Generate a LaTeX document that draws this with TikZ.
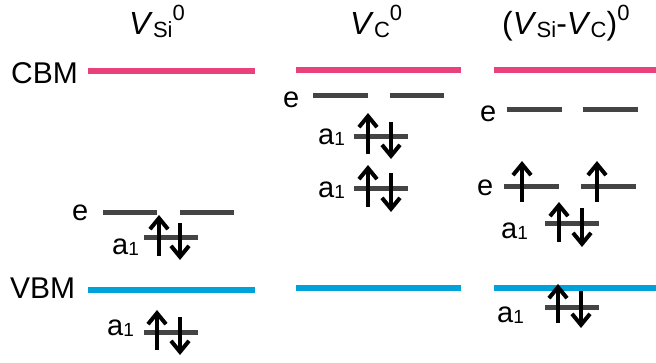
\documentclass[tikz,border=0pt]{standalone}
\usepackage{fontspec}
\usepackage{graphicx}
\setmainfont{Liberation Sans}
\usetikzlibrary{arrows.meta}
\definecolor{cbmcol}{HTML}{E8417B}
\definecolor{vbmcol}{HTML}{00A3D9}
\definecolor{lvlcol}{HTML}{444444}
\newcommand\lowtxt[1]{\raisebox{-3pt}{\fontsize{22}{22}\selectfont #1}}
\newcommand\hightxt[1]{\raisebox{14pt}{\fontsize{22}{22}\selectfont #1}}
\newcommand\aone{a\raisebox{-1pt}{\fontsize{19}{19}\selectfont 1}}
\tikzset{
  ttl/.style={inner sep=0pt, anchor=base west, font=\fontsize{32}{36}\selectfont},
  lbl/.style={inner sep=0pt, anchor=base west, font=\fontsize{30}{36}\selectfont},
  small/.style={inner sep=0pt, anchor=base west, font=\fontsize{29}{36}\selectfont},
  cbm/.style={draw=cbmcol, line width=6pt},
  vbm/.style={draw=vbmcol, line width=6pt},
  lvl/.style={draw=lvlcol, line width=5pt},
  spin/.style={draw=black, line width=4pt, -{Straight Barb[length=11pt,width=18pt,line width=4pt]}},
}
\begin{document}
\begin{tikzpicture}[x=1pt,y=-1pt]
\useasboundingbox (0,0) rectangle (656,362);
% titles
\node[ttl] (t1) at (129,34) {\textit{V}\lowtxt{Si}\hightxt{0}};
\node[ttl] (t2) at (350,34) {\textit{V}\lowtxt{C}\hightxt{0}};
\node[ttl] (t3) at (502,34) {(\textit{V}\lowtxt{Si}-\textit{V}\lowtxt{C})\hightxt{0}};
% band labels
\node[lbl] (cbm) at (11,83) {CBM};
\node[lbl] (vbm) at (10,298) {VBM};
% band edges
\draw[cbm] (88,71) -- (255,71);
\draw[cbm] (296,70) -- (461,70);
\draw[cbm] (494,70) -- (656,70);
\draw[vbm] (88,290) -- (255,290);
\draw[vbm] (296,288) -- (461,288);
\draw[vbm] (494,288) -- (656,288);
% column 1 levels
\node[small] (e1) at (72,220) {e};
\draw[lvl] (103,212) -- (157,212);
\draw[lvl] (180,212) -- (234,212);
\node[small] (a1u) at (112,254) {\aone};
\draw[lvl] (144,237) -- (198,237);
\node[small] (a1l) at (107,335) {\aone};
\draw[lvl] (144,332) -- (198,332);
% column 2 levels
\node[small] (e2) at (283,107) {e};
\draw[lvl] (313,95) -- (368,95);
\draw[lvl] (390,95) -- (444,95);
\node[small] (a2u) at (318,144) {\aone};
\draw[lvl] (354,136) -- (408,136);
\node[small] (a2l) at (318,197) {\aone};
\draw[lvl] (354,188) -- (408,188);
% column 3 levels
\node[small] (e3u) at (480,121) {e};
\draw[lvl] (507,109) -- (562,109);
\draw[lvl] (583,109) -- (638,109);
\node[small] (e3l) at (477,195) {e};
\draw[lvl] (504,186) -- (559,186);
\draw[lvl] (581,186) -- (636,186);
\node[small] (a3u) at (501,238) {\aone};
\draw[lvl] (545,223) -- (599,223);
\node[small] (a3l) at (497,322) {\aone};
\draw[lvl] (545,307) -- (599,307);
% spins column 1
\draw[spin] (159,256) -- (159,215);
\draw[spin] (180,223) -- (180,260);
\draw[spin] (157,350) -- (157,310);
\draw[spin] (180,317) -- (180,355);
% spins column 2
\draw[spin] (368,154) -- (368,113);
\draw[spin] (391,122) -- (391,159);
\draw[spin] (368,207) -- (368,165);
\draw[spin] (391,173) -- (391,212);
% spins column 3
\draw[spin] (522,202) -- (522,161);
\draw[spin] (597,202) -- (597,161);
\draw[spin] (559,242) -- (559,202);
\draw[spin] (582,208) -- (582,247);
\draw[spin] (558,323) -- (558,284);
\draw[spin] (581,291) -- (581,328);
\end{tikzpicture}
\end{document}
